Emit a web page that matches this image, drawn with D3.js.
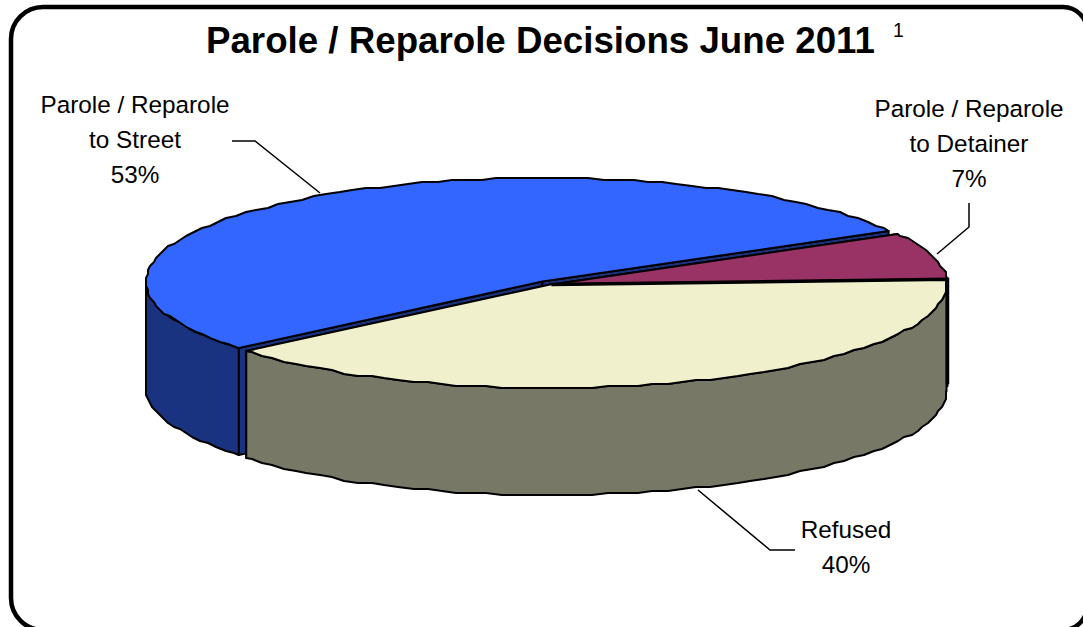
<!DOCTYPE html>
<html>
<head>
<meta charset="utf-8">
<script src="https://cdn.jsdelivr.net/npm/d3@7"></script>
<style>
  html, body { margin: 0; padding: 0; background: #fff; overflow: hidden; }
  svg { display: block; font-family: "Liberation Sans", Arial, sans-serif; }
</style>
</head>
<body>
<svg id="chart" width="1083" height="627"></svg>
<script>
const categories = ["Parole / Reparole to Street", "Parole / Reparole to Detainer", "Refused"];
const values = [53, 7.3, 39.7];
const topColors = ["#3366ff", "#993366", "#f0f0cc"];
const sideColors = ["#1a3380", "#4d1933", "#787866"];

const svg = d3.select("#chart");

// frame runs off the right and bottom of the picture
svg.append("path")
  .attr("d", "M43,7H1063A24,24 0 0 1 1087,31V606A24,24 0 0 1 1063,630H43A32,32 0 0 1 11,598V39A32,32 0 0 1 43,7Z")
  .attr("fill", "#fff").attr("stroke", "#000").attr("stroke-width", 4.5);

svg.append("text")
  .attr("x", 206).attr("y", 53)
  .attr("font-size", 36.7).attr("font-weight", "bold")
  .text("Parole / Reparole Decisions June 2011");
svg.append("text")
  .attr("x", 893).attr("y", 37)
  .attr("font-size", 19.5)
  .text("1");

// unit circle -> top ellipse of the pie
const x = d3.scaleLinear().domain([-1, 1]).range([152, 945]);
const y = d3.scaleLinear().domain([-1, 1]).range([180, 387]);
const depth = 107;

const pie = d3.pie().sort(null)
  .startAngle(-130 * Math.PI / 180)
  .endAngle(230 * Math.PI / 180);
const slices = pie(values);

// how far each slice is pulled out of the pie
const explode = [[-6, -2], [3, 1], [1.5, 1]];

const line = d3.line();
const grid = 2;
const step = 2.2 * Math.PI / 180;
const snap = v => Math.round(v / grid) * grid;

function rim(a0, a1, dx, dy) {
  const at = (a, exact) => {
    const px = x(Math.sin(a)) + dx, py = y(-Math.cos(a)) + dy;
    return exact ? [px, py] : [snap(px), snap(py)];
  };
  // fixed angle grid so the wall and the top share the same wobble
  const mid = d3.range(Math.floor(a0 / step) + 1, Math.ceil(a1 / step)).map(k => at(k * step, false));
  return [at(a0, true)].concat(mid, [at(a1, true)]);
}

function drawSlice(d, i) {
  const [dx, dy] = explode[i];
  const g = svg.append("g").attr("stroke", "#000").attr("stroke-linejoin", "round").attr("stroke-width", 2);
  const apex = [x(0) + dx, y(0) + dy];
  const lower = p => [p[0], p[1] + depth];

  // radial walls first, the outer wall covers them
  [d.startAngle, d.endAngle].forEach(a => {
    const edge = [x(Math.sin(a)) + dx, y(-Math.cos(a)) + dy];
    g.append("path")
      .attr("d", line([apex, edge, lower(edge), lower(apex)]) + "Z")
      .attr("fill", sideColors[i]);
  });

  // outer wall only where it faces the viewer (front half of the rim)
  [0, 2 * Math.PI]
    .map(turn => [Math.max(Math.PI / 2, d.startAngle + turn), Math.min(3 * Math.PI / 2, d.endAngle + turn)])
    .filter(s => s[0] < s[1])
    .forEach(([a0, a1]) => {
      const top = rim(a0, a1, dx, dy);
      g.append("path")
        .attr("d", line(top.concat(top.map(lower).reverse())) + "Z")
        .attr("fill", sideColors[i]);
    });

  g.append("path")
    .attr("d", line([apex].concat(rim(d.startAngle, d.endAngle, dx, dy))) + "Z")
    .attr("fill", topColors[i]);
}

slices.forEach(drawSlice);

// the maroon slice's wall is only a sliver: it reads as one heavy line
const maroon = slices[1];
const mEdge = [x(Math.sin(maroon.endAngle)) + explode[1][0], y(-Math.cos(maroon.endAngle)) + explode[1][1]];
svg.append("path")
  .attr("d", line([[x(0) + explode[1][0], y(0) + explode[1][1]], mEdge, [mEdge[0], mEdge[1] + depth - 2]]))
  .attr("fill", "none").attr("stroke", "#000").attr("stroke-width", 3.5);

const pct = d3.format(".0%");
const total = d3.sum(values);
const labelLines = [
  ["Parole / Reparole", "to Street"],
  ["Parole / Reparole", "to Detainer"],
  ["Refused"]
];
const labelPos = [[135, 113], [969, 117], [846, 538]];
const leaders = [
  [[232, 141], [255, 141], [320, 193]],
  [[969, 203], [969, 227], [937, 254]],
  [[795, 550], [770, 550], [698, 490]]
];

categories.forEach((c, i) => {
  svg.append("path")
    .attr("d", line(leaders[i]))
    .attr("fill", "none").attr("stroke", "#000").attr("stroke-width", 1.5);
  svg.append("text")
    .attr("text-anchor", "middle")
    .attr("font-size", 24.3)
    .attr("fill", "#000")
    .selectAll("tspan")
    .data(labelLines[i].concat(pct(values[i] / total)))
    .join("tspan")
    .attr("x", labelPos[i][0])
    .attr("y", (d, j) => labelPos[i][1] + j * 35)
    .text(d => d);
});
</script>
</body>
</html>
